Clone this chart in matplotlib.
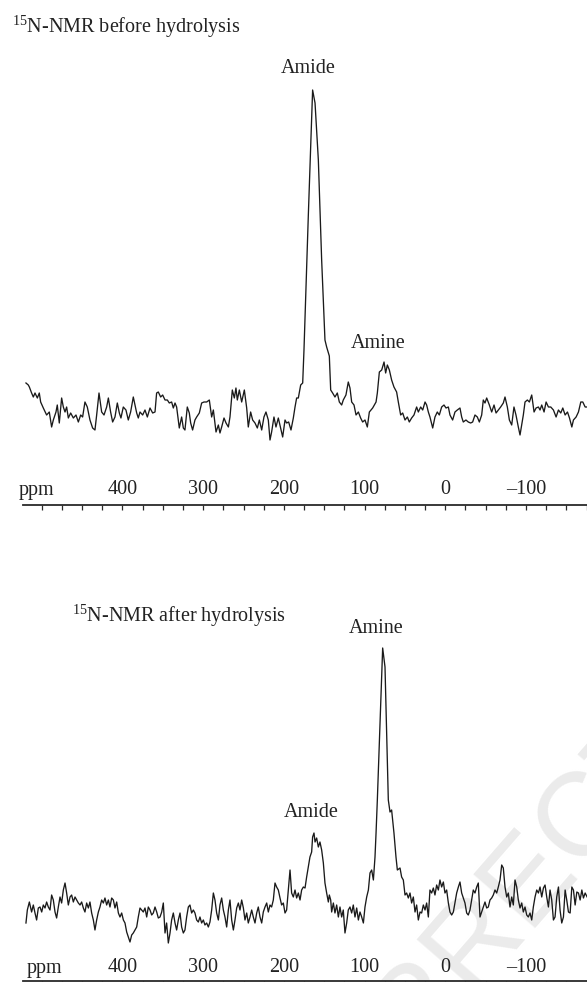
import matplotlib
matplotlib.use("Agg")
import matplotlib.pyplot as plt

plt.rcParams['font.family'] = ['Liberation Serif', 'DejaVu Serif']
plt.rcParams['mathtext.fontset'] = 'custom'
plt.rcParams['mathtext.rm'] = 'Liberation Serif'

# ---------------- data (chemical shift in ppm, intensity in arbitrary units) -------------
before_ppm = [519.6, 516.7, 515.4, 512.6, 510.5, 508.4, 505.5, 503.1, 501.4, 498.1, 494.0, 490.7,
              487.8, 485.7, 482.4, 480.8, 478.3, 475.4, 473.3, 471.2, 469.2, 467.1, 464.2, 460.9,
              457.6, 454.7, 451.8, 449.4, 446.5, 443.6, 440.3, 437.0, 434.1, 432.0, 429.1, 425.8,
              422.9, 419.6, 417.5, 414.7, 412.2, 409.3, 406.4, 403.9, 401.9, 399.0, 395.7, 392.8,
              389.9, 386.6, 384.5, 382.4, 380.4, 378.3, 375.0, 372.1, 369.2, 365.9, 362.6, 359.7,
              357.7, 355.6, 352.7, 350.2, 347.3, 344.4, 342.0, 339.1, 337.0, 334.9, 332.9, 329.6,
              326.7, 324.6, 322.6, 319.7, 317.2, 315.5, 313.1, 310.2, 308.1, 304.8, 301.9, 299.0,
              295.7, 292.4, 289.5, 287.4, 284.1, 281.2, 279.2, 277.1, 274.2, 271.7, 268.8, 266.8,
              263.9, 261.4, 259.4, 257.7, 255.2, 252.3, 249.0, 246.1, 244.1, 241.2, 238.7, 235.8,
              232.9, 230.4, 227.5, 224.7, 222.2, 219.3, 217.2, 215.2, 212.3, 209.8, 206.9, 204.0,
              201.5, 198.6, 196.6, 194.1, 191.2, 188.3, 186.2, 184.2, 182.1, 179.2, 176.7, 175.1,
              169.7, 164.4, 161.4, 157.3, 153.2, 149.1, 147.0, 143.7, 142.0, 139.6, 136.7, 133.8,
              131.3, 128.4, 126.4, 123.1, 120.2, 118.1, 116.0, 113.1, 110.6, 107.7, 104.9, 102.4,
              99.5, 96.6, 94.1, 90.0, 85.8, 84.2, 81.7, 78.8, 75.9, 73.9, 71.8, 69.3,
              66.5, 63.6, 60.3, 58.2, 55.3, 52.8, 49.9, 47.0, 44.6, 41.7, 38.8, 35.5,
              33.4, 30.5, 28.0, 25.1, 23.1, 21.0, 19.0, 15.6, 12.8, 9.9, 7.4, 4.5,
              1.6, -0.9, -3.8, -5.8, -9.1, -12.0, -14.9, -18.2, -20.3, -22.3, -25.6, -28.5,
              -31.4, -33.9, -36.8, -39.7, -42.2, -45.1, -47.1, -49.2, -51.3, -54.6, -57.5, -60.4,
              -62.9, -65.8, -68.6, -71.9, -74.0, -76.9, -79.4, -82.3, -85.1, -87.6, -90.5, -92.6,
              -94.7, -96.7, -98.8, -101.7, -104.2, -107.1, -110.0, -112.5, -115.4, -117.4, -119.5, -122.4,
              -124.9, -127.8, -130.7, -134.0, -137.3, -140.2, -143.1, -145.6, -148.5, -151.4, -153.9, -156.8,
              -158.8, -162.1, -165.0, -167.9, -170.4, -173.3, -175.8]
before_int = [122, 120, 118, 112, 108, 112, 107, 112, 103, 97, 90, 93,
              78, 85, 93, 100, 82, 107, 98, 93, 98, 87, 92, 87,
              90, 83, 90, 88, 103, 98, 85, 77, 75, 90, 112, 93,
              90, 98, 107, 93, 83, 88, 102, 92, 87, 98, 95, 85,
              93, 108, 100, 92, 87, 93, 90, 95, 88, 97, 92, 93,
              112, 113, 108, 110, 105, 105, 102, 103, 97, 102, 98, 77,
              88, 77, 75, 98, 92, 82, 75, 85, 88, 92, 102, 103,
              103, 105, 88, 95, 73, 80, 72, 78, 87, 82, 78, 88,
              115, 107, 117, 105, 115, 103, 115, 97, 78, 93, 85, 82,
              77, 85, 75, 88, 93, 85, 65, 73, 88, 78, 87, 77,
              68, 85, 82, 83, 75, 87, 98, 107, 107, 120, 122, 155,
              290, 415, 402, 345, 245, 165, 158, 149, 115, 112, 108, 112,
              103, 100, 105, 110, 123, 117, 103, 100, 90, 93, 87, 83,
              85, 78, 93, 97, 103, 112, 133, 135, 143, 132, 140, 135,
              125, 118, 113, 103, 90, 92, 85, 88, 83, 87, 90, 98,
              93, 98, 95, 103, 100, 93, 88, 77, 88, 93, 90, 98,
              100, 97, 98, 90, 85, 93, 95, 97, 88, 83, 85, 83,
              82, 83, 90, 88, 83, 90, 105, 102, 107, 100, 93, 100,
              92, 95, 98, 102, 108, 98, 85, 80, 98, 90, 78, 70,
              80, 90, 103, 105, 103, 110, 93, 97, 98, 95, 100, 93,
              103, 98, 98, 95, 88, 95, 92, 97, 90, 93, 87, 78,
              85, 88, 93, 103, 103, 98, 98]

after_ppm = [519.6, 517.9, 515.4, 512.6, 510.5, 508.4, 506.4, 504.3, 502.2, 500.1, 498.1, 496.0,
             494.0, 491.9, 489.8, 487.8, 485.7, 483.6, 481.6, 479.5, 477.4, 475.4, 473.3, 471.2,
             469.2, 467.1, 465.0, 463.0, 460.9, 458.8, 456.8, 454.7, 452.6, 450.6, 448.5, 446.5,
             444.4, 442.3, 440.3, 438.2, 436.1, 434.1, 432.0, 429.9, 427.9, 425.8, 423.7, 421.7,
             419.6, 417.5, 415.5, 413.4, 411.3, 409.3, 407.2, 405.1, 403.1, 401.0, 398.9, 396.9,
             394.8, 392.7, 390.7, 388.6, 386.6, 384.5, 382.4, 380.4, 378.3, 376.2, 374.2, 372.1,
             370.0, 368.0, 365.9, 363.8, 361.8, 359.7, 357.6, 355.6, 353.5, 351.4, 349.4, 347.3,
             345.3, 343.2, 341.1, 339.1, 337.0, 334.9, 332.9, 330.8, 328.7, 326.7, 324.6, 322.6,
             320.5, 318.4, 316.4, 314.3, 312.2, 310.2, 308.1, 306.0, 304.0, 301.9, 299.8, 297.8,
             295.7, 293.6, 291.6, 289.5, 287.4, 285.4, 283.3, 281.2, 279.2, 277.1, 275.0, 273.0,
             270.9, 268.8, 266.8, 264.7, 262.6, 260.6, 258.5, 256.4, 254.4, 252.3, 250.2, 248.2,
             246.1, 244.1, 242.0, 239.9, 237.9, 235.8, 233.7, 231.7, 229.6, 227.5, 225.5, 223.4,
             221.3, 219.3, 217.2, 215.2, 213.1, 211.0, 209.0, 206.9, 204.8, 202.8, 200.7, 198.6,
             196.6, 194.5, 192.4, 190.4, 188.3, 186.2, 184.2, 182.1, 180.0, 178.0, 175.9, 173.8,
             171.8, 169.7, 167.7, 165.6, 164.4, 162.7, 161.4, 159.4, 157.3, 155.3, 153.2, 151.1,
             149.1, 147.0, 144.9, 143.7, 142.0, 140.8, 138.7, 136.7, 134.6, 132.5, 130.5, 128.4,
             126.4, 124.3, 122.2, 120.2, 118.1, 116.0, 114.0, 111.9, 109.8, 107.7, 105.7, 103.6,
             101.5, 99.5, 97.4, 95.3, 93.3, 91.2, 89.1, 87.1, 85.8, 84.2, 77.6, 74.7,
             70.6, 68.5, 66.5, 63.6, 61.1, 59.4, 56.1, 54.1, 52.0, 49.9, 47.9, 45.8,
             43.7, 41.7, 39.6, 37.5, 35.5, 33.4, 31.3, 29.3, 27.2, 25.1, 23.1, 21.0,
             19.0, 16.9, 14.8, 12.8, 10.7, 8.6, 6.6, 4.5, 2.4, 0.4, -1.7, -3.8,
             -5.8, -7.9, -10.0, -12.0, -14.1, -16.2, -18.2, -20.3, -22.3, -24.4, -26.5, -28.5,
             -30.6, -32.7, -34.7, -36.8, -38.9, -40.9, -43.0, -45.1, -47.1, -49.2, -51.3, -53.3,
             -55.4, -57.5, -59.5, -61.6, -63.7, -65.7, -67.8, -69.9, -71.9, -74.0, -76.1, -78.1,
             -80.2, -82.3, -84.3, -86.4, -88.5, -90.5, -92.6, -94.7, -96.7, -98.8, -100.9, -102.9,
             -105.0, -107.1, -109.1, -111.2, -113.3, -115.4, -117.4, -119.5, -121.6, -123.6, -125.7, -127.8,
             -129.8, -131.9, -134.0, -136.0, -138.1, -140.2, -142.2, -144.3, -146.4, -148.5, -150.5, -152.6,
             -154.7, -156.8, -158.8, -160.9, -163.0, -165.0, -167.1, -169.2, -171.2, -173.3, -175.8]
after_int = [58, 71, 79, 69, 76, 68, 61, 73, 74, 69, 76, 73,
             79, 74, 71, 86, 81, 69, 63, 74, 84, 78, 91, 98,
             88, 76, 84, 86, 79, 84, 81, 78, 76, 79, 73, 69,
             78, 73, 79, 68, 61, 51, 61, 69, 74, 81, 78, 83,
             76, 81, 74, 83, 81, 73, 79, 68, 64, 68, 61, 58,
             49, 44, 39, 46, 48, 51, 54, 64, 73, 71, 69, 73,
             64, 74, 71, 66, 68, 74, 69, 63, 64, 69, 78, 48,
             58, 38, 48, 61, 68, 58, 51, 61, 68, 54, 48, 51,
             64, 74, 76, 68, 71, 68, 61, 59, 64, 58, 61, 56,
             58, 54, 59, 71, 88, 81, 68, 61, 76, 83, 71, 64,
             54, 71, 81, 61, 51, 61, 73, 78, 71, 81, 73, 61,
             68, 58, 64, 71, 64, 58, 68, 74, 64, 58, 69, 74,
             78, 69, 76, 74, 81, 98, 94, 91, 83, 76, 78, 68,
             71, 91, 111, 88, 84, 91, 83, 88, 81, 91, 94, 93,
             104, 114, 124, 129, 144, 148, 139, 143, 134, 139, 131, 118,
             98, 88, 79, 86, 81, 69, 78, 68, 76, 64, 74, 64,
             71, 48, 58, 71, 74, 68, 76, 64, 73, 61, 69, 64,
             58, 74, 84, 91, 108, 111, 101, 124, 148, 181, 333, 314,
             181, 169, 171, 148, 124, 111, 113, 104, 101, 86, 88, 83,
             88, 78, 84, 69, 76, 61, 69, 68, 76, 71, 78, 64,
             91, 88, 93, 86, 96, 91, 101, 94, 99, 88, 91, 78,
             69, 66, 69, 78, 88, 94, 99, 88, 83, 78, 68, 66,
             71, 81, 91, 88, 94, 98, 64, 69, 74, 79, 73, 74,
             81, 83, 86, 91, 88, 94, 101, 116, 113, 94, 84, 88,
             74, 84, 76, 101, 94, 81, 73, 78, 69, 74, 66, 64,
             68, 61, 74, 84, 91, 88, 94, 84, 93, 96, 84, 74,
             91, 81, 61, 64, 84, 94, 71, 58, 64, 91, 81, 69,
             68, 94, 91, 76, 89, 88, 81, 91, 83, 88, 84]

tick_ppm = [400, 300, 200, 100, 0, -100]
tick_labels = ['400', '300', '200', '100', '0', '\u2013100']
minor_ppm = list(range(500, -200, -25))
x_limits = (522.9, -175.6)

panel_titles = [r'$^{15}$N-NMR before hydrolysis', r'$^{15}$N-NMR after hydrolysis']
peak_labels_before = [('Amide', 170.1, 432), ('Amine', 83.0, 157)]
peak_labels_after = [('Amine', 85.6, 348), ('Amide', 166.4, 164)]
watermark = 'CORRECTED'

# ---------------- layout ----------------
W, H = 587, 982
fig = plt.figure(figsize=(W / 100, H / 100), dpi=100)
FS = 14.5
PX = 72 / 100  # points per pixel
INK = '#222222'

# faint watermark behind everything (drawn before the axes)
fig.text(522 / W, 1 - 890 / H, watermark, ha='center', va='center', rotation=49,
         fontsize=86, color='#ebebeb', family='Liberation Sans', zorder=-5)


def make_panel(y_top, y_axis, ymax):
    ax = fig.add_axes([23.3 / W, 1 - y_axis / H, 1 - 23.3 / W, (y_axis - y_top) / H])
    ax.set_zorder(2)
    ax.set_xlim(*x_limits)
    ax.set_ylim(0, ymax)
    for s in ['top', 'left', 'right']:
        ax.spines[s].set_visible(False)
    ax.spines['bottom'].set_linewidth(1.3)
    ax.spines['bottom'].set_color('#2a2a2a')
    ax.set_yticks([])
    ax.set_xticks(minor_ppm)
    ax.tick_params(axis='x', direction='out', length=5 * PX, width=0.9, color='#2a2a2a',
                   labelbottom=False)
    ax.patch.set_visible(False)
    return ax


def axis_labels(ax, offset_px):
    for p, lbl in zip(tick_ppm, tick_labels):
        ax.annotate(lbl, xy=(p, 0), xycoords=('data', 'axes fraction'),
                    xytext=(0, offset_px * PX), textcoords='offset points',
                    ha='center', va='center', fontsize=FS, color=INK)


# Top panel
ax1 = make_panel(40, 505, 465)
ax1.plot(before_ppm, before_int, color='#1a1a1a', lw=0.95)
axis_labels(ax1, 15)
fig.text(36.7 / W, 1 - 490 / H, 'ppm', ha='center', va='center', fontsize=FS, color=INK)
for txt, px_, iy in peak_labels_before:
    ax1.text(px_, iy, txt, ha='center', va='baseline', fontsize=FS, color=INK)

# Bottom panel
ax2 = make_panel(590, 981, 391)
ax2.plot(after_ppm, after_int, color='#1a1a1a', lw=0.95)
axis_labels(ax2, 13)
fig.text(44.5 / W, 1 - 968 / H, 'ppm', ha='center', va='center', fontsize=FS, color=INK)
for txt, px_, iy in peak_labels_after:
    ax2.text(px_, iy, txt, ha='center', va='baseline', fontsize=FS, color=INK)

# Titles
fig.text(11.7 / W, 1 - 33.3 / H, panel_titles[0], ha='left', va='baseline', fontsize=FS, color=INK)
fig.text(71.7 / W, 1 - 621.7 / H, panel_titles[1], ha='left', va='baseline', fontsize=FS, color=INK)

fig.savefig('out.png', dpi=100)
